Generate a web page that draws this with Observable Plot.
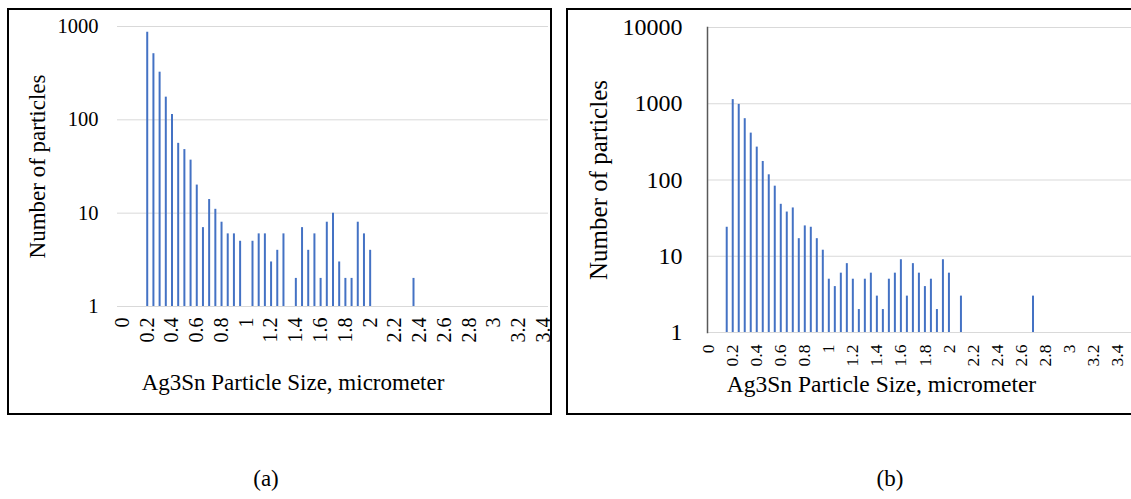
<!DOCTYPE html>
<html><head><meta charset="utf-8">
<script src="https://cdn.jsdelivr.net/npm/d3@7"></script>
<script src="https://cdn.jsdelivr.net/npm/@observablehq/plot@0.6"></script>
<style>
body{margin:0;background:#fff;width:1131px;height:499px;position:relative;overflow:hidden;font-family:"Liberation Serif",serif;}
.panel{position:absolute;}
.box{position:absolute;border:2px solid #000;box-sizing:border-box;}
.cap{position:absolute;font-size:23px;transform:translateX(-50%);color:#000;}
</style></head><body>
<div class="box" style="left:7px;top:8px;width:545px;height:407px"></div>
<div class="box" style="left:566px;top:8px;width:570px;height:407px"></div>
<div id="a" class="panel" style="left:0;top:0"></div>
<div id="b" class="panel" style="left:560px;top:0"></div>
<div class="cap" style="left:266px;top:466px">(a)</div>
<div class="cap" style="left:890px;top:466px">(b)</div>
<script>
// Panel (a)
const sizesA = [0.20,0.25,0.30,0.35,0.40,0.45,0.50,0.55,0.60,0.65,0.70,0.75,0.80,0.85,0.90,0.95,
  1.05,1.10,1.15,1.20,1.25,1.30,1.40,1.45,1.50,1.55,1.60,1.65,1.70,1.75,1.80,1.85,1.90,1.95,2.00,2.35];
const countsA = [870,511,324,175,114,56,48,37,20,7,14,11,8,6,6,5,
  5,6,6,3,4,6,2,7,4,6,2,8,10,3,2,2,8,6,4,2];
// Panel (b)
const sizesB = [0.15,0.20,0.25,0.30,0.35,0.40,0.45,0.50,0.55,0.60,0.65,0.70,0.75,0.80,0.85,0.90,0.95,
  1.00,1.05,1.10,1.15,1.20,1.25,1.30,1.35,1.40,1.45,1.50,1.55,1.60,1.65,1.70,1.75,1.80,1.85,1.90,1.95,2.00,2.10,2.70];
const countsB = [24,1133,980,637,412,270,175,117,83,48,38,43,17,25,24,17,12,
  5,4,6,8,5,2,5,6,3,2,5,6,9,3,8,6,4,5,2,9,6,3,3];
const xTicks = [0,0.2,0.4,0.6,0.8,1,1.2,1.4,1.6,1.8,2,2.2,2.4,2.6,2.8,3,3.2,3.4];
const yTicksA = [1,10,100,1000];
const yTicksB = [1,10,100,1000,10000];
const xTitle = "Ag3Sn Particle Size, micrometer";
const yTitle = "Number of particles";
const barColor = "#4472c4";
const gridColor = "#d9d9d9";

function chart(o) {
  const data = o.sizes.map((s, i) => ({size: s, count: o.counts[i]}));
  const marks = [
    Plot.ruleY(o.yTicks, {stroke: gridColor, strokeWidth: 1}),
    Plot.ruleX(data, {x: "size", y1: () => 1, y2: "count", stroke: barColor, strokeWidth: 2}),
    Plot.axisX(xTicks, {tickRotate: -90, tickSize: 0, tickPadding: o.xPad, fontSize: o.xFont, label: null, tickFormat: d => String(d)}),
    Plot.axisY(o.yTicks, {tickSize: 0, tickPadding: o.yPad, fontSize: o.yFont, label: null, tickFormat: d => String(d)}),
    Plot.text([xTitle], {text: d => d, frameAnchor: "bottom", textAnchor: "middle", dx: o.tDx, dy: o.tDy, fontSize: o.tFont, lineAnchor: "middle"}),
    Plot.text([yTitle], {text: d => d, frameAnchor: "left", textAnchor: "middle", rotate: -90, dx: o.yTDx, fontSize: o.yTFont, lineAnchor: "middle"})
  ];
  if (o.axisLine) marks.push(Plot.frame({anchor: "left", stroke: "#595959", strokeWidth: 1.5}));
  return Plot.plot({
    width: o.width, height: o.height,
    marginLeft: o.ml, marginRight: o.mr, marginTop: o.mt, marginBottom: o.mb,
    style: {fontFamily: "'Liberation Serif', serif", background: "transparent", color: "#000", overflow: "visible"},
    x: {type: "linear", domain: o.xDomain},
    y: {type: "log", domain: [o.yTicks[0], o.yTicks[o.yTicks.length - 1]]},
    marks
  });
}

document.getElementById("a").append(chart({
  sizes: sizesA, counts: countsA, yTicks: yTicksA,
  width: 560, height: 420, ml: 117, mr: 12, mt: 26, mb: 114, xDomain: [-0.04, 3.44],
  xPad: 11, xFont: 20, yPad: 19, yFont: 20.5,
  tDx: -40, tDy: 76, tFont: 23, yTDx: -80, yTFont: 23
}));
document.getElementById("b").append(chart({
  sizes: sizesB, counts: countsB, yTicks: yTicksB,
  width: 571, height: 420, ml: 147, mr: 0, mt: 27, mb: 88, xDomain: [-0.01, 3.52],
  xPad: 12, xFont: 17.5, yPad: 25, yFont: 24,
  tDx: -38, tDy: 52, tFont: 23.5, yTDx: -109, yTFont: 25, axisLine: true
}));
</script>
</body></html>
